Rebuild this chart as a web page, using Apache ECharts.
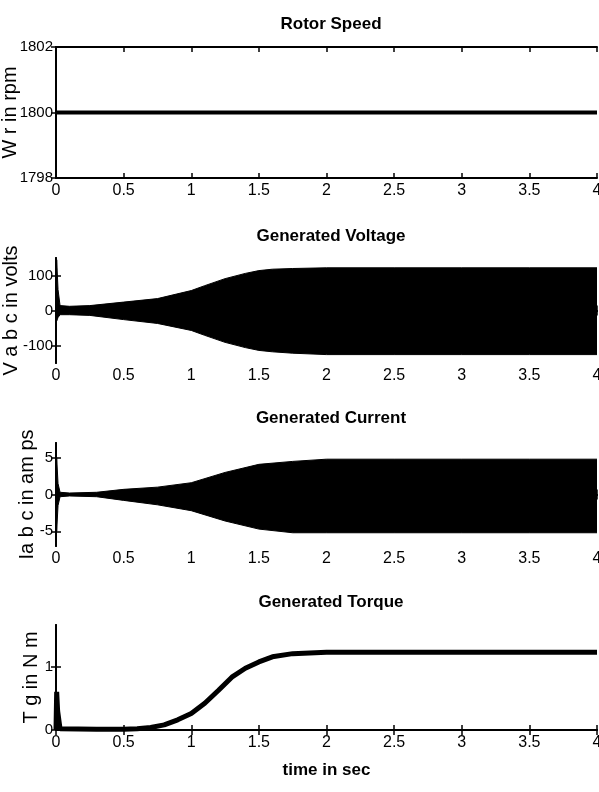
<!DOCTYPE html>
<html>
<head>
<meta charset="utf-8">
<script src="https://cdn.jsdelivr.net/npm/echarts@6/dist/echarts.min.js"></script>
<style>
html, body { margin: 0; padding: 0; background: #fff; }
#main { width: 599px; height: 792px; }
</style>
</head>
<body>
<div id="main"></div>
<script>
// rotor speed
var speedTime = [0, 4];
var speedRpm = [1800, 1800];

// generated voltage, envelope of the three phases
var voltTime = [0, 0.005, 0.015, 0.03, 0.1, 0.25, 0.5, 0.75, 1, 1.1, 1.25, 1.4, 1.5, 1.6, 1.75, 2, 2.5, 3, 3.5, 4];
var voltUpper = [0, 145, 60, 14, 12, 14, 24, 34, 57, 71, 91, 106, 114, 118, 120, 122, 122, 122, 122, 122];
var voltLower = [0, -30, -20, -12, -12, -14, -26, -37, -57, -71, -91, -106, -114, -118, -122, -126, -126, -126, -126, -126];

// generated current, envelope
var currTime = [0, 0.005, 0.015, 0.03, 0.1, 0.3, 0.5, 0.75, 1, 1.25, 1.5, 1.75, 2, 2.5, 3, 3.5, 4];
var currUpper = [0, 5, 1.5, 0.3, 0.2, 0.3, 0.7, 1.0, 1.6, 3.0, 4.1, 4.5, 4.8, 4.8, 4.8, 4.8, 4.8];
var currLower = [0, -5, -1.5, -0.3, -0.2, -0.3, -0.8, -1.4, -2.2, -3.6, -4.7, -5.2, -5.2, -5.2, -5.2, -5.2, -5.2];

// generated torque
var torqTime = [0, 0.005, 0.012, 0.03, 0.3, 0.5, 0.6, 0.7, 0.8, 0.9, 1, 1.1, 1.2, 1.3, 1.4, 1.5, 1.6, 1.75, 2, 3, 4];
var torqNm = [0, 0.6, 0.3, 0.02, 0.01, 0.01, 0.02, 0.04, 0.08, 0.16, 0.26, 0.42, 0.62, 0.83, 0.97, 1.07, 1.15, 1.2, 1.22, 1.22, 1.22];

var xTicks = [0, 0.5, 1, 1.5, 2, 2.5, 3, 3.5, 4];

var FONT = '"Liberation Sans", Arial, sans-serif';

function pairs(t, v) {
    var out = [];
    for (var i = 0; i < t.length; i++) out.push([t[i], v[i]]);
    return out;
}
function plain(v) { return String(v); }

var plots = [
    { title: 'Rotor Speed', top: 47, bottom: 178, titleTop: 11, ymin: 1798, ymax: 1802, yticks: [1798, 1800, 1802], name: 'W r in rpm', gap: 36 },
    { title: 'Generated Voltage', top: 258, bottom: 363, titleTop: 223, ymin: -150, ymax: 150, yticks: [-100, 0, 100], name: 'V a b c in volts', gap: 35 },
    { title: 'Generated Current', top: 443, bottom: 546, titleTop: 405, ymin: -7, ymax: 7, yticks: [-5, 0, 5], name: 'Ia b c in am ps', gap: 19 },
    { title: 'Generated Torque', top: 625, bottom: 730, titleTop: 589, ymin: 0, ymax: 1.65, yticks: [0, 1], name: 'T g in N m', gap: 15 }
];

var titles = [], grids = [], xAxes = [], yAxes = [];
plots.forEach(function (p, i) {
    titles.push({
        text: p.title, left: 326, top: p.titleTop, textAlign: 'center',
        textStyle: { fontFamily: FONT, fontWeight: 'bold', fontSize: 17, color: '#000' }
    });
    grids.push({ left: 56, right: 2, top: p.top, height: p.bottom - p.top, outerBoundsMode: 'none' });
    var lineStyle = { color: '#000', width: 2 };
    var x = {
        type: 'value', gridIndex: i, min: 0, max: 4, position: 'bottom',
        axisLine: { lineStyle: lineStyle },
        axisTick: { inside: true, length: 5, lineStyle: { color: '#000', width: 1.5 }, customValues: xTicks },
        axisLabel: { color: '#000', fontFamily: FONT, fontSize: 16, margin: 5, customValues: xTicks, formatter: plain },
        splitLine: { show: false }
    };
    if (i === 3) {
        x.name = 'time in sec';
        x.nameLocation = 'middle';
        x.nameGap = 32;
        x.nameMoveOverlap = false;
        x.nameTextStyle = { fontFamily: FONT, fontWeight: 'bold', fontSize: 17, color: '#000' };
    }
    xAxes.push(x);
    xAxes.push({
        type: 'value', gridIndex: i, min: 0, max: 4, position: 'top',
        axisLine: { lineStyle: lineStyle },
        axisTick: { inside: true, length: 5, lineStyle: { color: '#000', width: 1.5 }, customValues: xTicks },
        axisLabel: { show: false },
        splitLine: { show: false }
    });
    yAxes.push({
        type: 'value', gridIndex: i, min: p.ymin, max: p.ymax, position: 'left',
        name: p.name, nameLocation: 'middle', nameRotate: 90, nameGap: p.gap, nameMoveOverlap: false,
        nameTextStyle: { fontFamily: FONT, fontSize: 20, color: '#000' },
        axisLine: { show: true, lineStyle: lineStyle },
        axisTick: { show: true, inside: true, length: 5, lineStyle: { color: '#000', width: 1.5 }, customValues: p.yticks },
        axisLabel: { color: '#000', fontFamily: FONT, fontSize: 15, margin: 3, customValues: p.yticks, formatter: plain },
        splitLine: { show: false }
    });
    yAxes.push({
        type: 'value', gridIndex: i, min: p.ymin, max: p.ymax, position: 'right',
        axisLine: { show: true, lineStyle: lineStyle },
        axisTick: { show: true, inside: true, length: 5, lineStyle: { color: '#000', width: 1.5 }, customValues: p.yticks },
        axisLabel: { show: false },
        splitLine: { show: false }
    });
});

function band(i, t, v) {
    return {
        type: 'line', xAxisIndex: i * 2, yAxisIndex: i * 2, data: pairs(t, v),
        symbol: 'none', lineStyle: { color: '#000', width: 1 },
        areaStyle: { color: '#000', opacity: 1, origin: 0 }, silent: true
    };
}

var series = [
    { type: 'line', xAxisIndex: 0, yAxisIndex: 0, data: pairs(speedTime, speedRpm), symbol: 'none', lineStyle: { color: '#000', width: 4 } },
    band(1, voltTime, voltUpper),
    band(1, voltTime, voltLower),
    band(2, currTime, currUpper),
    band(2, currTime, currLower),
    { type: 'line', xAxisIndex: 6, yAxisIndex: 6, data: pairs(torqTime, torqNm), symbol: 'none', lineStyle: { color: '#000', width: 5 } }
];

var chart = echarts.init(document.getElementById('main'));
chart.setOption({
    animation: false,
    backgroundColor: '#fff',
    title: titles,
    grid: grids,
    xAxis: xAxes,
    yAxis: yAxes,
    series: series
});
</script>
</body>
</html>
